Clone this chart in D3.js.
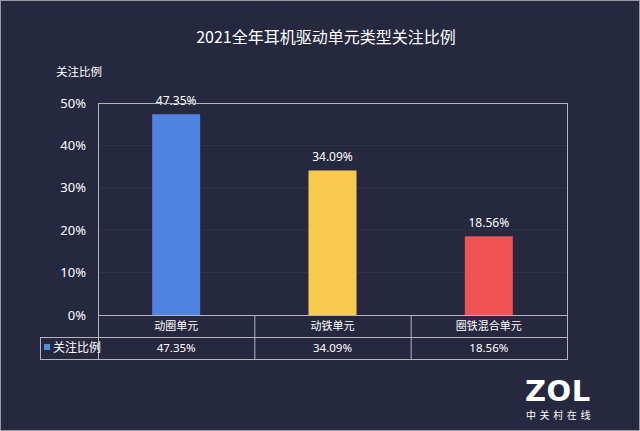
<!DOCTYPE html>
<html>
<head>
<meta charset="utf-8">
<script src="https://cdn.jsdelivr.net/npm/d3@7"></script>
<style>
  html, body { margin: 0; padding: 0; background: #262840; }
  svg { display: block; font-family: "Noto Sans CJK SC", "Noto Sans", sans-serif; }
</style>
</head>
<body>
<svg id="chart" width="640" height="431"></svg>
<script>
const categories = ["动圈单元", "动铁单元", "圈铁混合单元"];
const values = [47.35, 34.09, 18.56];
const barColors = ["#5083e2", "#f7c94c", "#ef5354"];
const yTicks = [0, 10, 20, 30, 40, 50];
const seriesName = "关注比例";

const svg = d3.select("#chart");
const W = 640, H = 431;
const margin = {top: 103, left: 98, right: 73, bottom: 116};
const width = W - margin.left - margin.right;
const height = H - margin.top - margin.bottom;
const rowH = 22;

// background + outer frame
svg.append("rect").attr("width", W).attr("height", H).attr("fill", "#262840");
svg.append("rect").attr("x", 0.5).attr("y", 0.5).attr("width", W - 1).attr("height", H - 1)
  .attr("fill", "none").attr("stroke", "#9a9aa6").attr("stroke-width", 1);

// title
svg.append("text").attr("x", 326).attr("y", 43).attr("text-anchor", "middle")
  .attr("fill", "#ffffff").attr("font-size", 16).text("2021全年耳机驱动单元类型关注比例");

svg.append("text").attr("x", 56).attr("y", 76).attr("fill", "#ffffff")
  .attr("font-size", 11.5).text(seriesName);

const g = svg.append("g").attr("transform", `translate(${margin.left},${margin.top})`);

const x = d3.scaleBand().domain(categories).range([0, width]).paddingInner(0).paddingOuter(0);
const y = d3.scaleLinear().domain([0, 50]).range([height, 0]);

// gridlines
g.append("g").selectAll("line").data(yTicks.slice(1, -1)).enter().append("line")
  .attr("x1", 0).attr("x2", width)
  .attr("y1", d => y(d)).attr("y2", d => y(d))
  .attr("stroke", "#32344b").attr("stroke-width", 1);

// y axis labels
const yAxis = d3.axisLeft(y).tickValues(yTicks).tickFormat(d => d + "%").tickSize(0).tickPadding(12);
g.append("g").call(yAxis)
  .call(s => s.select(".domain").remove())
  .selectAll("text").attr("fill", "#ffffff").attr("font-size", 13)
  .attr("font-family", "Noto Sans, sans-serif");

// bars
const bw = 48;
g.selectAll("rect.bar").data(values).enter().append("rect")
  .attr("class", "bar")
  .attr("x", (d, i) => x(categories[i]) + x.bandwidth() / 2 - bw / 2)
  .attr("y", d => y(d))
  .attr("width", bw)
  .attr("height", d => height - y(d))
  .attr("fill", (d, i) => barColors[i]);

// value labels
g.selectAll("text.val").data(values).enter().append("text")
  .attr("class", "val")
  .attr("x", (d, i) => x(categories[i]) + x.bandwidth() / 2)
  .attr("y", d => y(d) - 9)
  .attr("text-anchor", "middle").attr("fill", "#ffffff").attr("font-size", 12)
  .attr("font-family", "Noto Sans, sans-serif")
  .text(d => d.toFixed(2) + "%");

// plot box + data table
const line = "#b4b4bc";
g.append("rect").attr("x", 0.5).attr("y", 0.5).attr("width", width).attr("height", height + 2 * rowH)
  .attr("fill", "none").attr("stroke", line);
g.append("line").attr("x1", 0).attr("x2", width).attr("y1", height + 0.5).attr("y2", height + 0.5).attr("stroke", line);
g.append("line").attr("x1", -58).attr("x2", width).attr("y1", height + rowH + 0.5).attr("y2", height + rowH + 0.5).attr("stroke", line);
g.append("line").attr("x1", -58).attr("x2", width).attr("y1", height + 2 * rowH + 0.5).attr("y2", height + 2 * rowH + 0.5).attr("stroke", line);
g.append("line").attr("x1", -57.5).attr("x2", -57.5).attr("y1", height + rowH).attr("y2", height + 2 * rowH).attr("stroke", line);
g.selectAll("line.col").data(categories.slice(1)).enter().append("line")
  .attr("class", "col")
  .attr("x1", d => x(d) + 0.5).attr("x2", d => x(d) + 0.5)
  .attr("y1", height).attr("y2", height + 2 * rowH).attr("stroke", line);

// category row
g.selectAll("text.cat").data(categories).enter().append("text")
  .attr("class", "cat")
  .attr("x", d => x(d) + x.bandwidth() / 2)
  .attr("y", height + rowH / 2 + 4)
  .attr("text-anchor", "middle").attr("fill", "#ffffff").attr("font-size", 11)
  .text(d => d);

// value row
g.selectAll("text.tv").data(values).enter().append("text")
  .attr("class", "tv")
  .attr("x", (d, i) => x(categories[i]) + x.bandwidth() / 2)
  .attr("y", height + rowH * 1.5 + 4)
  .attr("text-anchor", "middle").attr("fill", "#ffffff").attr("font-size", 11.5)
  .attr("font-family", "Noto Sans, sans-serif")
  .text(d => d.toFixed(2) + "%");

// legend key in table
g.append("rect").attr("x", -54).attr("y", height + rowH + 7).attr("width", 6).attr("height", 6).attr("fill", "#4f8fd6");
g.append("text").attr("x", -45).attr("y", height + rowH * 1.5 + 4).attr("fill", "#ffffff")
  .attr("font-size", 12).text(seriesName);

// watermark
svg.append("text").attr("x", 525).attr("y", 401).attr("fill", "#ffffff")
  .attr("font-size", 29).attr("font-weight", 900).attr("font-family", "DejaVu Sans, sans-serif")
  .attr("letter-spacing", 0.5).text("ZOL");
svg.append("text").attr("x", 526).attr("y", 419).attr("fill", "#ffffff")
  .attr("font-size", 10).attr("letter-spacing", 3.6).text("中关村在线");
</script>
</body>
</html>
